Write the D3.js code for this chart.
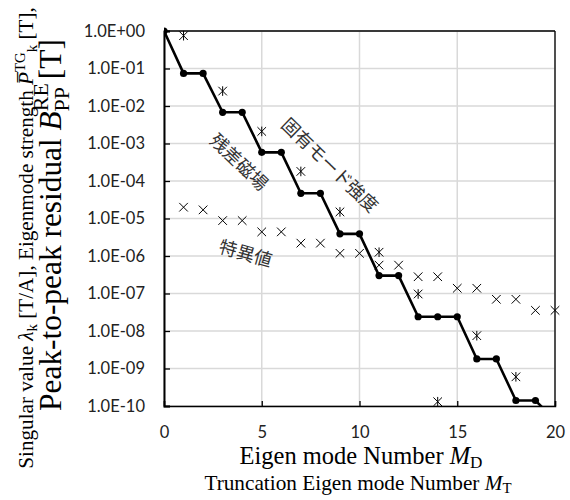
<!DOCTYPE html>
<html><head><meta charset="utf-8">
<script src="https://cdn.jsdelivr.net/npm/d3@7"></script>
<style>body{margin:0;background:#fff}svg{display:block}</style>
</head><body>
<svg id="chart" width="570" height="500"></svg>
<script>
// ---- data ----
const residualM = [0,1,2,3,4,5,6,7,8,9,10,11,12,13,14,15,16,17,18,19,20];
const residualB = [1.0,7.4e-2,7.4e-2,6.8e-3,6.8e-3,5.8e-4,5.8e-4,4.7e-5,4.7e-5,3.9e-6,3.9e-6,3.0e-7,3.0e-7,2.4e-8,2.4e-8,2.4e-8,1.8e-9,1.8e-9,1.4e-10,1.4e-10,4.2e-11];
const eigenM = [1,3,5,7,9,11,13,14,16,18];
const eigenP = [0.75,2.5e-2,2.1e-3,1.8e-4,1.5e-5,1.26e-6,9.7e-8,1.3e-10,7.5e-9,6.0e-10];
const singularM = [1,2,3,4,5,6,7,8,9,10,11,12,13,14,15,16,17,18,19,20];
const singularL = [2.0e-5,1.7e-5,8.8e-6,8.8e-6,4.4e-6,4.4e-6,2.2e-6,2.2e-6,1.18e-6,1.18e-6,5.7e-7,5.7e-7,2.8e-7,2.8e-7,1.38e-7,1.38e-7,7.0e-8,7.0e-8,3.55e-8,3.55e-8];
const yTickValues = [1,1e-1,1e-2,1e-3,1e-4,1e-5,1e-6,1e-7,1e-8,1e-9,1e-10];
const yTickLabels = ["1.0E+00","1.0E-01","1.0E-02","1.0E-03","1.0E-04","1.0E-05","1.0E-06","1.0E-07","1.0E-08","1.0E-09","1.0E-10"];
const xTickValues = [0,5,10,15,20];

// ---- layout ----
const L = 164, R = 555, T = 31, B = 406;
const svg = d3.select("#chart");
const x = d3.scaleLinear().domain([0,20]).range([L,R]);
const y = d3.scaleLog().domain([1e-10,1]).range([B,T]);

// gridlines
svg.append("g").selectAll("line").data(yTickValues).join("line")
  .attr("x1",L).attr("x2",R).attr("y1",d=>y(d)).attr("y2",d=>y(d))
  .attr("stroke","#d9d9d9").attr("stroke-width",1.5);
svg.append("g").selectAll("line").data(xTickValues).join("line")
  .attr("x1",d=>x(d)).attr("x2",d=>x(d)).attr("y1",T).attr("y2",B)
  .attr("stroke","#d9d9d9").attr("stroke-width",1.5);

// frame top/right
svg.append("line").attr("x1",L).attr("x2",R).attr("y1",T).attr("y2",T).attr("stroke","#000").attr("stroke-width",1.3);
svg.append("line").attr("x1",R).attr("x2",R).attr("y1",T).attr("y2",B).attr("stroke","#000").attr("stroke-width",1.3);

// axes
const fontTick = "Lato, 'Open Sans', sans-serif";
const yAxis = d3.axisLeft(y).tickValues(yTickValues).tickSize(-6).tickPadding(19)
  .tickFormat((d,i)=>yTickLabels[i]);
const gy = svg.append("g").attr("transform",`translate(${L},0)`).call(yAxis);
gy.select(".domain").attr("stroke","#000").attr("stroke-width",2);
gy.selectAll(".tick line").attr("stroke","#000").attr("stroke-width",1.3);
gy.selectAll("text").attr("font-family",fontTick).attr("font-size",16.5).attr("fill","#222");

const xAxis = d3.axisBottom(x).tickValues(xTickValues).tickSize(-5).tickPadding(20).tickFormat(d3.format("d"));
const gx = svg.append("g").attr("transform",`translate(0,${B})`).call(xAxis);
gx.select(".domain").attr("stroke","#000").attr("stroke-width",1.5);
gx.selectAll(".tick line").attr("stroke","#000").attr("stroke-width",1.3);
gx.selectAll("text").attr("font-family",fontTick).attr("font-size",16.5).attr("fill","#222");

// clip
svg.append("clipPath").attr("id","clip").append("rect").attr("x",L).attr("y",T-6).attr("width",R-L+6).attr("height",B-T+6);
const plot = svg.append("g").attr("clip-path","url(#clip)");

// residual step line
const resData = residualM.map((m,i)=>({m, v: residualB[i]}));
plot.append("path").datum(resData)
  .attr("d", d3.line().x(d=>x(d.m)).y(d=>y(d.v)))
  .attr("fill","none").attr("stroke","#000").attr("stroke-width",2.6);
plot.selectAll("circle.res").data(resData.filter(d=>d.m<=19)).join("circle")
  .attr("class","res").attr("cx",d=>x(d.m)).attr("cy",d=>y(d.v)).attr("r",3.6).attr("fill","#000");

// singular values (x markers)
const s = 4.3;
const sg = plot.append("g").attr("stroke","#000").attr("stroke-width",1);
singularM.forEach((m,i)=>{
  const cx = x(m), cy = y(singularL[i]);
  sg.append("path").attr("d",`M${cx-s},${cy-s}L${cx+s},${cy+s}M${cx-s},${cy+s}L${cx+s},${cy-s}`);
});
// eigenmode strength (star markers)
const eg = plot.append("g").attr("stroke","#000").attr("stroke-width",1);
eigenM.forEach((m,i)=>{
  const cx = x(m), cy = y(eigenP[i]);
  eg.append("path").attr("d",`M${cx-s},${cy-s}L${cx+s},${cy+s}M${cx-s},${cy+s}L${cx+s},${cy-s}M${cx},${cy-s-0.5}L${cx},${cy+s+0.5}`);
});

// annotations
const jp = "'Noto Sans CJK JP', sans-serif";
function ann(txt, cx, cy, ang, fs){
  svg.append("text").attr("transform",`translate(${cx},${cy}) rotate(${ang})`)
    .attr("text-anchor","middle").attr("dominant-baseline","central")
    .attr("font-family",jp).attr("font-size",fs).attr("font-weight",400).attr("fill","#333").text(txt);
}
ann("固有モード強度", 331, 164, 44, 18);
ann("残差磁場", 240, 161, 44, 18);
ann("特異値", 246, 252, 16, 18);

// axis titles
const serif = "'Liberation Serif', 'Times New Roman', serif";
function fit(textSel, cx, cy, rot, target){
  const w = textSel.node().getBBox().width;
  const k = target / w;
  textSel.attr("transform",`translate(${cx},${cy}) rotate(${rot}) scale(${k})`);
}
const xt = svg.append("g").attr("font-family",serif).attr("font-size",20).attr("fill","#000");
const t1 = xt.append("text").attr("text-anchor","middle");
t1.append("tspan").text("Eigen mode Number ");
t1.append("tspan").attr("font-style","italic").text("M");
t1.append("tspan").attr("font-size",14).attr("dy",3).text("D");
fit(t1, 361, 464, 0, 243);
const t2 = xt.append("text").attr("text-anchor","middle");
t2.append("tspan").text("Truncation Eigen mode Number ");
t2.append("tspan").attr("font-style","italic").text("M");
t2.append("tspan").attr("font-size",14).attr("dy",3).text("T");
fit(t2, 358, 490, 0, 308);

const yt = svg.append("g").attr("font-family",serif).attr("font-size",20).attr("fill","#000");
const y1 = yt.append("text").attr("text-anchor","middle");
y1.append("tspan").text("Singular value ");
y1.append("tspan").attr("font-style","italic").text("λ");
y1.append("tspan").attr("font-size",14).attr("dy",4).text("k");
y1.append("tspan").attr("dy",-4).text(" [T/A], Eigenmode strength ");
y1.append("tspan").attr("font-style","italic").text("P\u0305");
y1.append("tspan").attr("font-size",14).attr("dy",-8).text("TG");
y1.append("tspan").attr("font-size",14).attr("dy",12).text("k");
y1.append("tspan").attr("dy",-4).text(" [T],");
fit(y1, 33, 238, -90, 462);
const y2 = yt.append("text").attr("text-anchor","middle");
y2.append("tspan").text("Peak-to-peak residual ");
y2.append("tspan").attr("font-style","italic").text("B");
y2.append("tspan").attr("font-size",14).attr("dy",-8).text("RE");
y2.append("tspan").attr("font-size",14).attr("dy",13).attr("dx",-18).text("PP");
y2.append("tspan").attr("dy",-5).text(" [T]");
fit(y2, 61, 225, -90, 372);
</script>
</body></html>
